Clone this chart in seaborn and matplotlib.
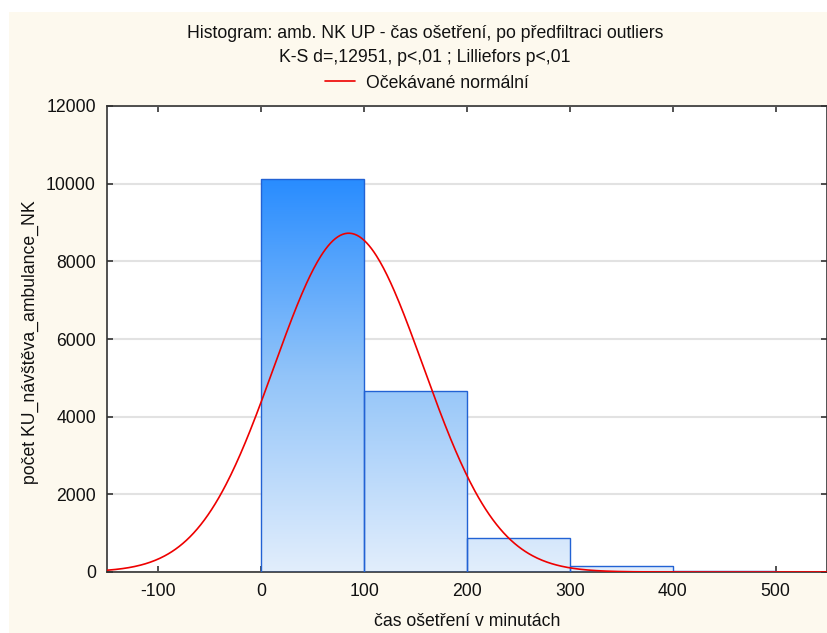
import numpy as np
import pandas as pd
import matplotlib
matplotlib.use("Agg")
import matplotlib.pyplot as plt
import seaborn as sns
from matplotlib.colors import LinearSegmentedColormap
from matplotlib.patches import Rectangle
from matplotlib.lines import Line2D

# ---- data ----
bin_edges = [0, 100, 200, 300, 400, 500]
counts = [10130, 4660, 880, 155, 30]
normal_mean = 85.0
normal_sd = 72.5
x_ticks = [-100, 0, 100, 200, 300, 400, 500]
y_ticks = [0, 2000, 4000, 6000, 8000, 10000, 12000]
title_line1 = "Histogram: amb. NK UP - čas ošetření, po předfiltraci outliers"
title_line2 = "K-S d=,12951, p<,01 ; Lilliefors p<,01"
legend_label = "Očekávané normální"
x_label = "čas ošetření v minutách"
y_label = "počet KU_návštěva_ambulance_NK"

sns.set_style("white")
plt.rcParams["font.family"] = ["Liberation Sans", "DejaVu Sans"]
plt.rcParams["text.color"] = "#111111"
plt.rcParams["xtick.color"] = "#111111"
plt.rcParams["ytick.color"] = "#111111"
FS = 12.7

W, H = 828, 633
fig = plt.figure(figsize=(W / 100, H / 100), dpi=100)
fig.patch.set_facecolor("white")
fig.patches.append(Rectangle((9 / W, 0), 1, 1 - 12 / H, transform=fig.transFigure,
                             facecolor="#fdf9ee", edgecolor="none", zorder=-10))

ax = fig.add_axes([107 / W, 1 - 572 / H, (827 - 107) / W, (572 - 106) / H])
ax.set_facecolor("white")

centers = [(a + b) / 2 for a, b in zip(bin_edges[:-1], bin_edges[1:])]
df = pd.DataFrame({"x": centers, "w": counts})
sns.histplot(data=df, x="x", weights="w", bins=bin_edges, ax=ax,
             edgecolor="#2262d4", linewidth=1.0, alpha=1.0)

cmap = LinearSegmentedColormap.from_list("g", ["#e2eefc", "#92c4f9", "#288cff"])
grad = np.linspace(0, 1, 256).reshape(-1, 1)
ymax_c = max(counts)
for p in list(ax.patches):
    p.set_facecolor("none")
    p.set_zorder(3)
    im = ax.imshow(grad, cmap=cmap, aspect="auto", origin="lower",
                   extent=(bin_edges[0], bin_edges[-1], 0, ymax_c), zorder=2,
                   interpolation="bilinear")
    im.set_clip_path(p)

# expected normal curve
n_total = sum(counts)
bw = bin_edges[1] - bin_edges[0]
xs = np.linspace(-150, 550, 600)
ys = n_total * bw / (normal_sd * np.sqrt(2 * np.pi)) * np.exp(-0.5 * ((xs - normal_mean) / normal_sd) ** 2)
sns.lineplot(x=xs, y=ys, ax=ax, color="#ee0000", linewidth=1.2, zorder=4)

ax.set_xlim(-150, 550)
ax.set_ylim(0, 12000)
ax.set_xticks(x_ticks)
ax.set_yticks(y_ticks)
ax.set_xticklabels([str(v) for v in x_ticks], fontsize=FS)
ax.set_yticklabels([str(v) for v in y_ticks], fontsize=FS)
ax.tick_params(direction="in", length=4, width=1.2, color="#333333",
               top=True, right=True, bottom=True, left=True, pad=8)
ax.yaxis.grid(True, color="#e2e2e2", linewidth=1.5, zorder=0)
ax.xaxis.grid(False)
ax.set_axisbelow(True)
for s in ax.spines.values():
    s.set_color("#333333")
    s.set_linewidth(1.2)
ax.set_xlabel("")
ax.set_ylabel("")

fig.text(467 / W, 1 - 622 / H, x_label, ha="center", va="center", fontsize=FS)
fig.text(30 / W, 1 - 342 / H, y_label, ha="center", va="center", rotation=90, fontsize=FS)
fig.text(425 / W, 1 - 33 / H, title_line1, ha="center", va="center", fontsize=FS)
fig.text(425 / W, 1 - 58 / H, title_line2, ha="center", va="center", fontsize=FS)
handle = Line2D([], [], color="#ee0000", linewidth=1.2)
fig.legend([handle], [legend_label], loc="center", bbox_to_anchor=(427 / W, 1 - 83 / H),
           frameon=False, fontsize=FS, handlelength=1.7, handletextpad=0.6)

fig.savefig("out.png", dpi=100, facecolor=fig.get_facecolor())
